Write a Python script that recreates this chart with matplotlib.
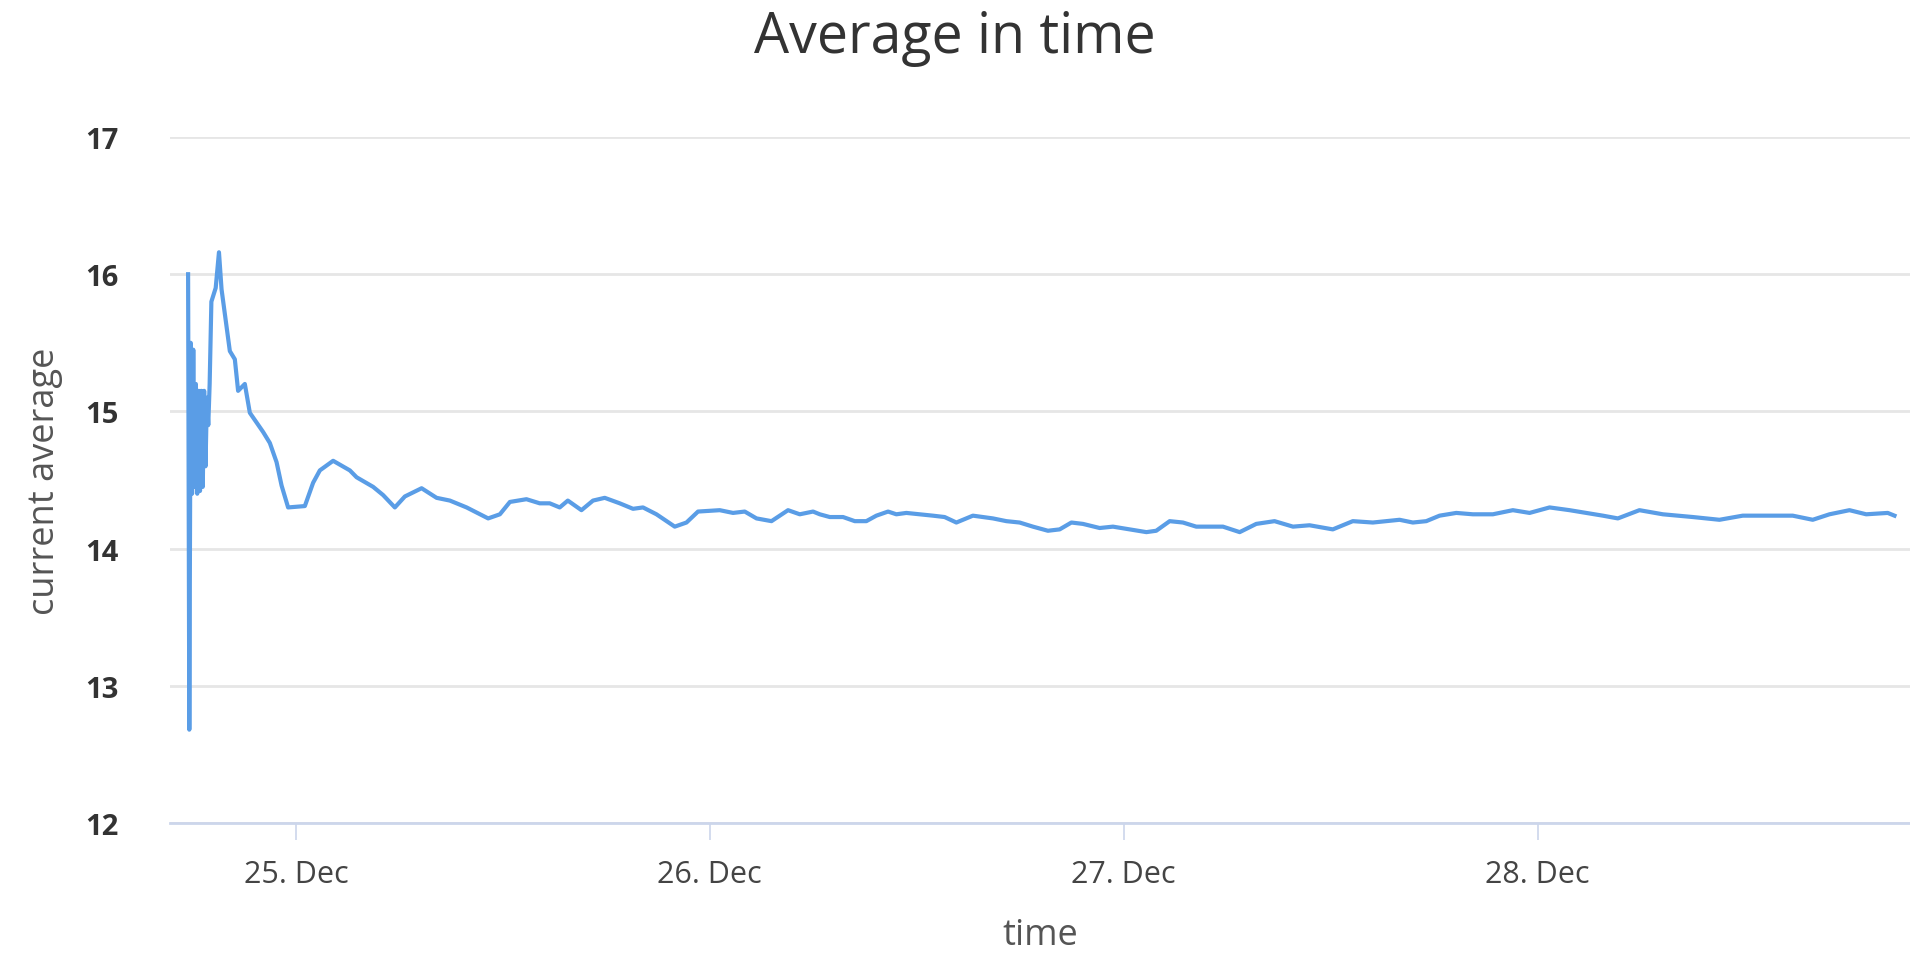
import matplotlib
matplotlib.use("Agg")
import matplotlib.pyplot as plt
import matplotlib.dates as mdates
import pandas as pd

# hours after 25 Dec 00:00
hours = [-6.25, -6.18, -6.10, -6.02, -5.95, -5.88, -5.80, -5.72, -5.64, -5.56,
         -5.48, -5.40, -5.32, -5.24, -5.16, -5.08, -5.00, -4.90, -4.65, -4.46,
         -4.31, -3.83, -3.54, -3.35, -2.96, -2.67, -1.90, -1.51, -1.12, -0.83,
         -0.45, 0.52, 1.00, 1.39, 2.16, 3.13, 3.52, 4.48, 5.06, 5.74,
         6.32, 7.29, 8.16, 8.93, 9.90, 11.15, 11.83, 12.41, 13.37, 14.14,
         14.72, 15.30, 15.77, 16.56, 17.23, 17.91, 18.78, 19.55, 20.13, 20.91,
         21.97, 22.65, 23.32, 24.58, 25.35, 26.03, 26.71, 27.58, 28.54, 29.22,
         29.99, 30.38, 30.96, 31.73, 32.41, 33.08, 33.66, 34.34, 34.82, 35.40,
         36.17, 36.94, 37.62, 38.30, 39.26, 40.42, 41.20, 41.97, 42.74, 43.61,
         44.29, 44.97, 45.64, 46.61, 47.38, 48.35, 49.32, 49.89, 50.67, 51.44,
         52.21, 52.98, 53.76, 54.73, 55.69, 56.75, 57.82, 58.78, 60.13, 61.29,
         62.45, 63.23, 64.00, 64.77, 65.55, 66.32, 67.29, 68.25, 69.41, 70.57,
         71.54, 72.70, 73.86, 74.82, 75.79, 76.66, 77.91, 79.27, 81.01, 82.55,
         83.90, 85.26, 86.80, 87.96, 88.93, 90.09, 91.06, 92.31, 92.70]
avg = [16.00, 12.68, 15.50, 14.40, 15.45, 14.45, 15.20, 14.40, 15.15, 14.42,
       15.15, 14.45, 15.15, 14.60, 15.10, 14.90, 15.20, 15.80, 15.90, 16.16,
       15.89, 15.44, 15.38, 15.15, 15.20, 14.99, 14.85, 14.77, 14.63, 14.46,
       14.30, 14.31, 14.48, 14.57, 14.64, 14.57, 14.52, 14.45, 14.39, 14.30,
       14.38, 14.44, 14.37, 14.35, 14.30, 14.22, 14.25, 14.34, 14.36, 14.33,
       14.33, 14.30, 14.35, 14.28, 14.35, 14.37, 14.33, 14.29, 14.30, 14.25,
       14.16, 14.19, 14.27, 14.28, 14.26, 14.27, 14.22, 14.20, 14.28, 14.25,
       14.27, 14.25, 14.23, 14.23, 14.20, 14.20, 14.24, 14.27, 14.25, 14.26,
       14.25, 14.24, 14.23, 14.19, 14.24, 14.22, 14.20, 14.19, 14.16, 14.13,
       14.14, 14.19, 14.18, 14.15, 14.16, 14.14, 14.12, 14.13, 14.20, 14.19,
       14.16, 14.16, 14.16, 14.12, 14.18, 14.20, 14.16, 14.17, 14.14, 14.20,
       14.19, 14.20, 14.21, 14.19, 14.20, 14.24, 14.26, 14.25, 14.25, 14.28,
       14.26, 14.30, 14.28, 14.26, 14.24, 14.22, 14.28, 14.25, 14.23, 14.21,
       14.24, 14.24, 14.24, 14.21, 14.25, 14.28, 14.25, 14.26, 14.24]

start_day = pd.Timestamp("2018-12-25")
y_ticks = [12, 13, 14, 15, 16, 17]

times = start_day + pd.to_timedelta(hours, unit="h")

plt.rcParams["font.family"] = ["Open Sans", "DejaVu Sans"]

fig = plt.figure(figsize=(19.1, 9.62), dpi=100)
ax = fig.add_axes([0.089, 0.1435, 0.911, 0.713])

ax.plot(times, avg, color="#5a9de6", linewidth=3, solid_joinstyle="round", zorder=3)

ax.set_ylim(12, 17)
ax.set_yticks(y_ticks)
ax.set_xlim(start_day - pd.Timedelta(hours=7.3), start_day + pd.Timedelta(hours=93.6))
ax.xaxis.set_major_locator(mdates.DayLocator())
ax.xaxis.set_major_formatter(mdates.DateFormatter("%d. %b"))

ax.grid(axis="y", color="#e6e6e6", linewidth=2)
ax.set_axisbelow(True)
for side in ["top", "right", "left"]:
    ax.spines[side].set_visible(False)
ax.spines["bottom"].set_color("#ccd6eb")
ax.spines["bottom"].set_linewidth(2)

ax.tick_params(axis="y", length=0, pad=37, labelsize=21, labelcolor="#333333")
ax.tick_params(axis="x", length=12, width=1.2, color="#ccd6eb", pad=14,
               labelsize=22, labelcolor="#444444")
for lbl in ax.get_yticklabels():
    lbl.set_fontweight("bold")

ax.set_xlabel("time", fontsize=26, color="#555555", labelpad=20)
ax.set_ylabel("current average", fontsize=26, color="#555555", labelpad=16)
fig.suptitle("Average in time", fontsize=40, color="#333333", y=0.99, va="top")

fig.savefig("out.png", dpi=100, facecolor="white")
